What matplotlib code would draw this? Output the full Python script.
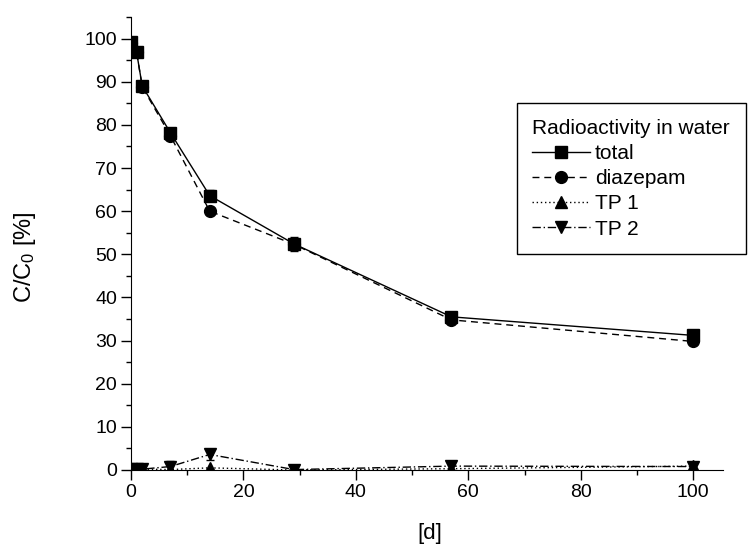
import matplotlib
matplotlib.use("Agg")
import matplotlib.pyplot as plt
from matplotlib.ticker import MultipleLocator

plt.rcParams['font.family'] = ['Liberation Sans', 'DejaVu Sans']
plt.rcParams['mathtext.fontset'] = 'custom'
plt.rcParams['mathtext.rm'] = 'Liberation Sans'
plt.rcParams['mathtext.it'] = 'Liberation Sans'

# sampling days and C/C0 values (%)
days = [0, 1, 2, 7, 14, 29, 57, 100]
total = [99.3, 96.8, 89.0, 78.2, 63.6, 52.4, 35.5, 31.2]
total_err = [0.8, 0.8, 0.8, 1.0, 1.2, 1.6, 1.0, 0.8]
diazepam = [99.0, 96.8, 88.8, 77.5, 60.0, 52.3, 34.8, 29.8]
diazepam_err = [0.5, 0.5, 0.5, 0.5, 0.5, 1.0, 1.0, 0.5]
tp1 = [0.1, 0.2, 0.2, 0.1, 0.5, 0.0, 0.3, 0.9]
tp2 = [0.3, 0.3, 0.2, 0.8, 3.6, 0.1, 0.9, 0.8]
tp2_err = [0.0, 0.0, 0.0, 1.4, 1.2, 0.0, 1.2, 0.8]

fig = plt.figure(figsize=(7.49, 5.49), dpi=100)
ax = fig.add_axes([0.1749, 0.1439, 0.7904, 0.8251])

ax.errorbar(days, total, yerr=total_err, fmt='none', ecolor='black', elinewidth=1, capsize=3)
ax.errorbar(days, diazepam, yerr=diazepam_err, fmt='none', ecolor='black', elinewidth=1, capsize=3)
ax.errorbar(days, tp2, yerr=tp2_err, fmt='none', ecolor='black', elinewidth=1, capsize=3)

ax.plot(days, total, color='black', lw=1, ls='-', marker='s', ms=8, label='total')
ax.plot(days, diazepam, color='black', lw=1, ls=(0, (5, 3.5)), marker='o', ms=8.5, label='diazepam')
ax.plot(days, tp1, color='black', lw=1, ls=(0, (1, 2)), marker='^', ms=9, label='TP 1')
ax.plot(days, tp2, color='black', lw=1, ls=(0, (6, 2, 1, 2)), marker='v', ms=9, label='TP 2')

ax.set_xlim(0, 105.3)
ax.set_ylim(0, 105)
ax.xaxis.set_major_locator(MultipleLocator(20))
ax.xaxis.set_minor_locator(MultipleLocator(10))
ax.yaxis.set_major_locator(MultipleLocator(10))
ax.yaxis.set_minor_locator(MultipleLocator(5))
ax.spines['top'].set_visible(False)
ax.spines['right'].set_visible(False)
ax.tick_params(which='major', direction='out', length=7, width=1, labelsize=14, pad=3)
ax.tick_params(which='minor', direction='out', length=3.5, width=1)

ax.set_xlabel('[d]', fontsize=16)
ax.set_ylabel('C/C$_0$ [%]', fontsize=17)
ax.xaxis.set_label_coords(0.505, -0.117)
ax.yaxis.set_label_coords(-0.157, 0.47)

leg = fig.legend(title='Radioactivity in water', loc='upper left',
                 bbox_to_anchor=(0.690, 0.8124),
                 fontsize=15, title_fontsize=15, fancybox=False, framealpha=1,
                 edgecolor='black', handlelength=2.75, handletextpad=0.25,
                 labelspacing=0.3, borderpad=0.75, borderaxespad=0)
leg._legend_box.align = 'left'
leg.get_frame().set_linewidth(1)

fig.savefig('out.png', dpi=100)
